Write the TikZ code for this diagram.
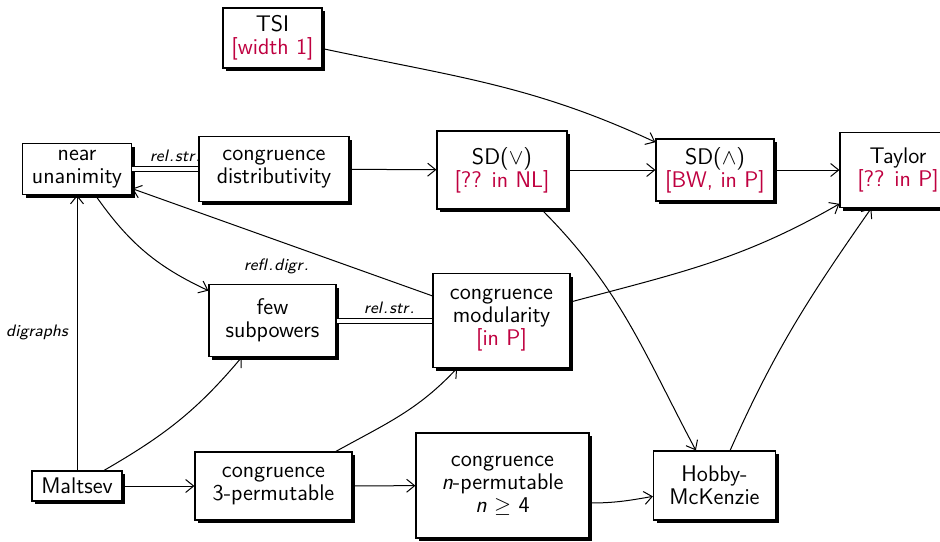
\documentclass[tikz,border=0pt]{standalone}
\usetikzlibrary{arrows.meta,shadows}
\colorlet{cx}{purple}

\begin{document}
\begin{tikzpicture}[x=0.5pt, y=0.5pt,
    >={Straight Barb[length=4pt,width=6.5pt]},
    prop/.style={draw, line width=0.6pt, fill=white, align=center, inner sep=1pt,
        drop shadow={shadow xshift=1.5pt, shadow yshift=-1.5pt, opacity=1, fill=black},
        font=\sffamily\fontsize{11.3}{11.5}\selectfont},
    conn/.style={->, line width=0.5pt},
    eqv/.style={double, double distance=2pt, line width=0.5pt},
    lbl/.style={font=\sffamily\itshape\fontsize{8.3}{10}\selectfont}]

    \useasboundingbox (0,0) rectangle (940,-541);

    %% Properties

    % Top row
    \node[prop, minimum width=49.5pt, minimum height=30pt] (tsi) at (272.5,-38)
        {TSI\\\textcolor{cx}{[width 1]}};

    % Second row
    \node[prop, minimum width=54.5pt, minimum height=25.5pt] (nu) at (77,-169)
        {near\\unanimity};
    \node[prop, minimum width=75pt, minimum height=32.5pt] (cd) at (274,-169)
        {congruence\\distributivity};
    \node[prop, minimum width=65pt, minimum height=39pt] (sdv) at (502,-170)
        {SD($\vee$)\\\textcolor{cx}{[?? in NL]}};
    \node[prop, minimum width=59pt, minimum height=31pt] (sdw) at (715,-170)
        {SD($\wedge$)\\\textcolor{cx}{[BW, in P]}};
    \node[prop, minimum width=58pt, minimum height=37.5pt] (taylor) at (898,-170)
        {Taylor\\\textcolor{cx}{[?? in P]}};

    % Third row
    \node[prop, minimum width=63.5pt, minimum height=36pt] (fs) at (272.5,-320.5)
        {few\\subpowers};
    \node[prop, minimum width=68.5pt, minimum height=47pt] (cm) at (501.5,-320.5)
        {congruence\\modularity\\\textcolor{cx}{[in P]}};

    % Bottom row
    \node[prop, minimum width=45pt, minimum height=15pt] (maltsev) at (77,-486)
        {Maltsev};
    \node[prop, minimum width=78.5pt, minimum height=34pt] (c3p) at (273.5,-486)
        {congruence\\3-permutable};
    \node[prop, minimum width=86.5pt, minimum height=52.5pt] (cnp) at (502.5,-485.5)
        {congruence\\\textit{n}-permutable\\\textit{n} $\geq$ 4};
    \node[prop, minimum width=61pt, minimum height=34.5pt] (hm) at (714.5,-485.5)
        {Hobby-\\McKenzie};

    %% Implications

    % Straight ones
    \draw[conn] (cd) -- (sdv);
    \draw[conn] (sdv) -- (sdw);
    \draw[conn] (sdw) -- (taylor);
    \draw[conn] (maltsev) -- (c3p);
    \draw[conn] (c3p) -- (cnp);
    \draw[conn] (maltsev) -- node[lbl, midway, left=1pt] {digraphs} (nu);
    \draw[conn] (cm) -- node[lbl, pos=0.52, below=6pt]
        {refl\kern.6pt.\kern.6pt digr\kern.6pt.} (nu);

    % Bent ones
    \draw[conn] (tsi) to[out=-12, in=155] (sdw);
    \draw[conn] (nu) to[out=-55, in=155] (fs);
    \draw[conn] (maltsev) to[out=30, in=-130] (fs);
    \draw[conn] (c3p) to[out=29, in=-133] (cm);
    \draw[conn] ([yshift=-8.75pt]cnp.east) to[out=0, in=190] (hm);
    \draw[conn] (sdv) to[out=-45, in=118] (hm);
    \draw[conn] (hm) to[out=66, in=-125] (taylor);
    \draw[conn] (cm) to[out=15, in=-150] (taylor);

    %% Equivalences
    \draw[eqv] (nu) -- node[lbl, pos=0.65, above]
        {rel\kern.6pt.\kern.6pt str\kern.6pt.} (cd);
    \draw[eqv] (fs) -- node[lbl, pos=0.55, above]
        {rel\kern.6pt.\kern.6pt str\kern.6pt.} (cm);

\end{tikzpicture}
\end{document}
